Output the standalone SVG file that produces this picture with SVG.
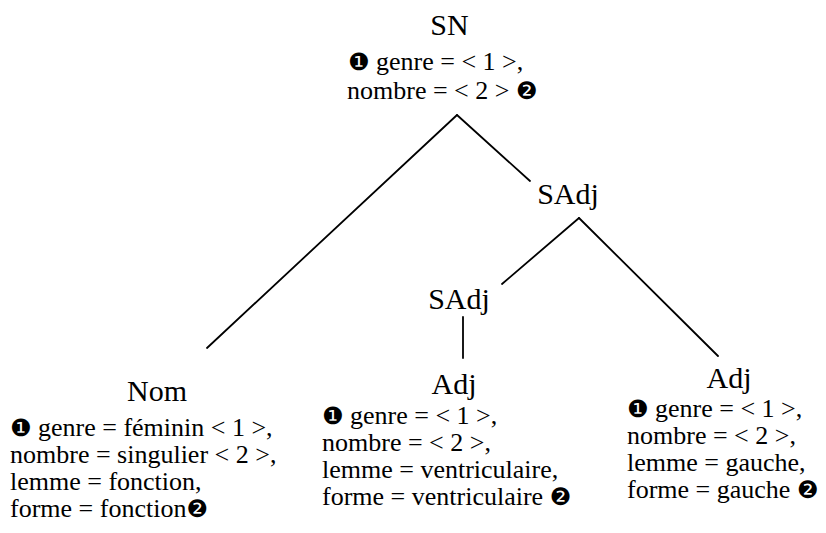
<svg xmlns="http://www.w3.org/2000/svg" width="826" height="533" viewBox="0 0 826 533">
<style>
text{font-family:'Liberation Serif','DejaVu Serif','Times New Roman',Times,serif;fill:#000}
.t{font-size:30px;text-anchor:middle}
.a{font-size:26px}
.c{font-family:'DejaVu Sans',sans-serif;font-size:24px}
.e{stroke:#000;stroke-width:1.8;fill:none;stroke-linecap:round}
</style>
<rect width="826" height="533" fill="#fff"/>
<g id="connectors">
<line class="e" x1="457" y1="115" x2="207" y2="348"/>
<line class="e" x1="457" y1="115" x2="530" y2="181"/>
<line class="e" x1="579" y1="218" x2="502" y2="284"/>
<line class="e" x1="579" y1="218" x2="718" y2="356"/>
<line class="e" x1="463" y1="317" x2="463" y2="358"/>
</g>
<g id="SN">
<text class="t" x="449.5" y="35">SN</text>
<text class="a" x="348" y="70"><tspan class="c">❶</tspan> genre = &lt; 1 &gt;,</text>
<text class="a" x="347" y="99">nombre = &lt; 2 &gt; <tspan class="c">❷</tspan></text>
</g>
<g id="SAdj1">
<text class="t" x="568" y="204">SAdj</text>
</g>
<g id="SAdj2">
<text class="t" x="459" y="309">SAdj</text>
</g>
<g id="Nom">
<text class="t" x="157" y="401">Nom</text>
<text class="a" x="10" y="436"><tspan class="c">❶</tspan> genre = féminin &lt; 1 &gt;,</text>
<text class="a" x="10" y="463">nombre = singulier &lt; 2 &gt;,</text>
<text class="a" x="10" y="490">lemme = fonction,</text>
<text class="a" x="10" y="517">forme = fonction<tspan class="c">❷</tspan></text>
</g>
<g id="Adj1">
<text class="t" x="454" y="394">Adj</text>
<text class="a" x="322" y="424"><tspan class="c">❶</tspan> genre = &lt; 1 &gt;,</text>
<text class="a" x="322" y="451">nombre = &lt; 2 &gt;,</text>
<text class="a" x="322" y="478">lemme = ventriculaire,</text>
<text class="a" x="322" y="505">forme = ventriculaire <tspan class="c">❷</tspan></text>
</g>
<g id="Adj2">
<text class="t" x="729" y="388">Adj</text>
<text class="a" x="627" y="417"><tspan class="c">❶</tspan> genre = &lt; 1 &gt;,</text>
<text class="a" x="627" y="444">nombre = &lt; 2 &gt;,</text>
<text class="a" x="627" y="471">lemme = gauche,</text>
<text class="a" x="627" y="498">forme = gauche <tspan class="c">❷</tspan></text>
</g>
</svg>
